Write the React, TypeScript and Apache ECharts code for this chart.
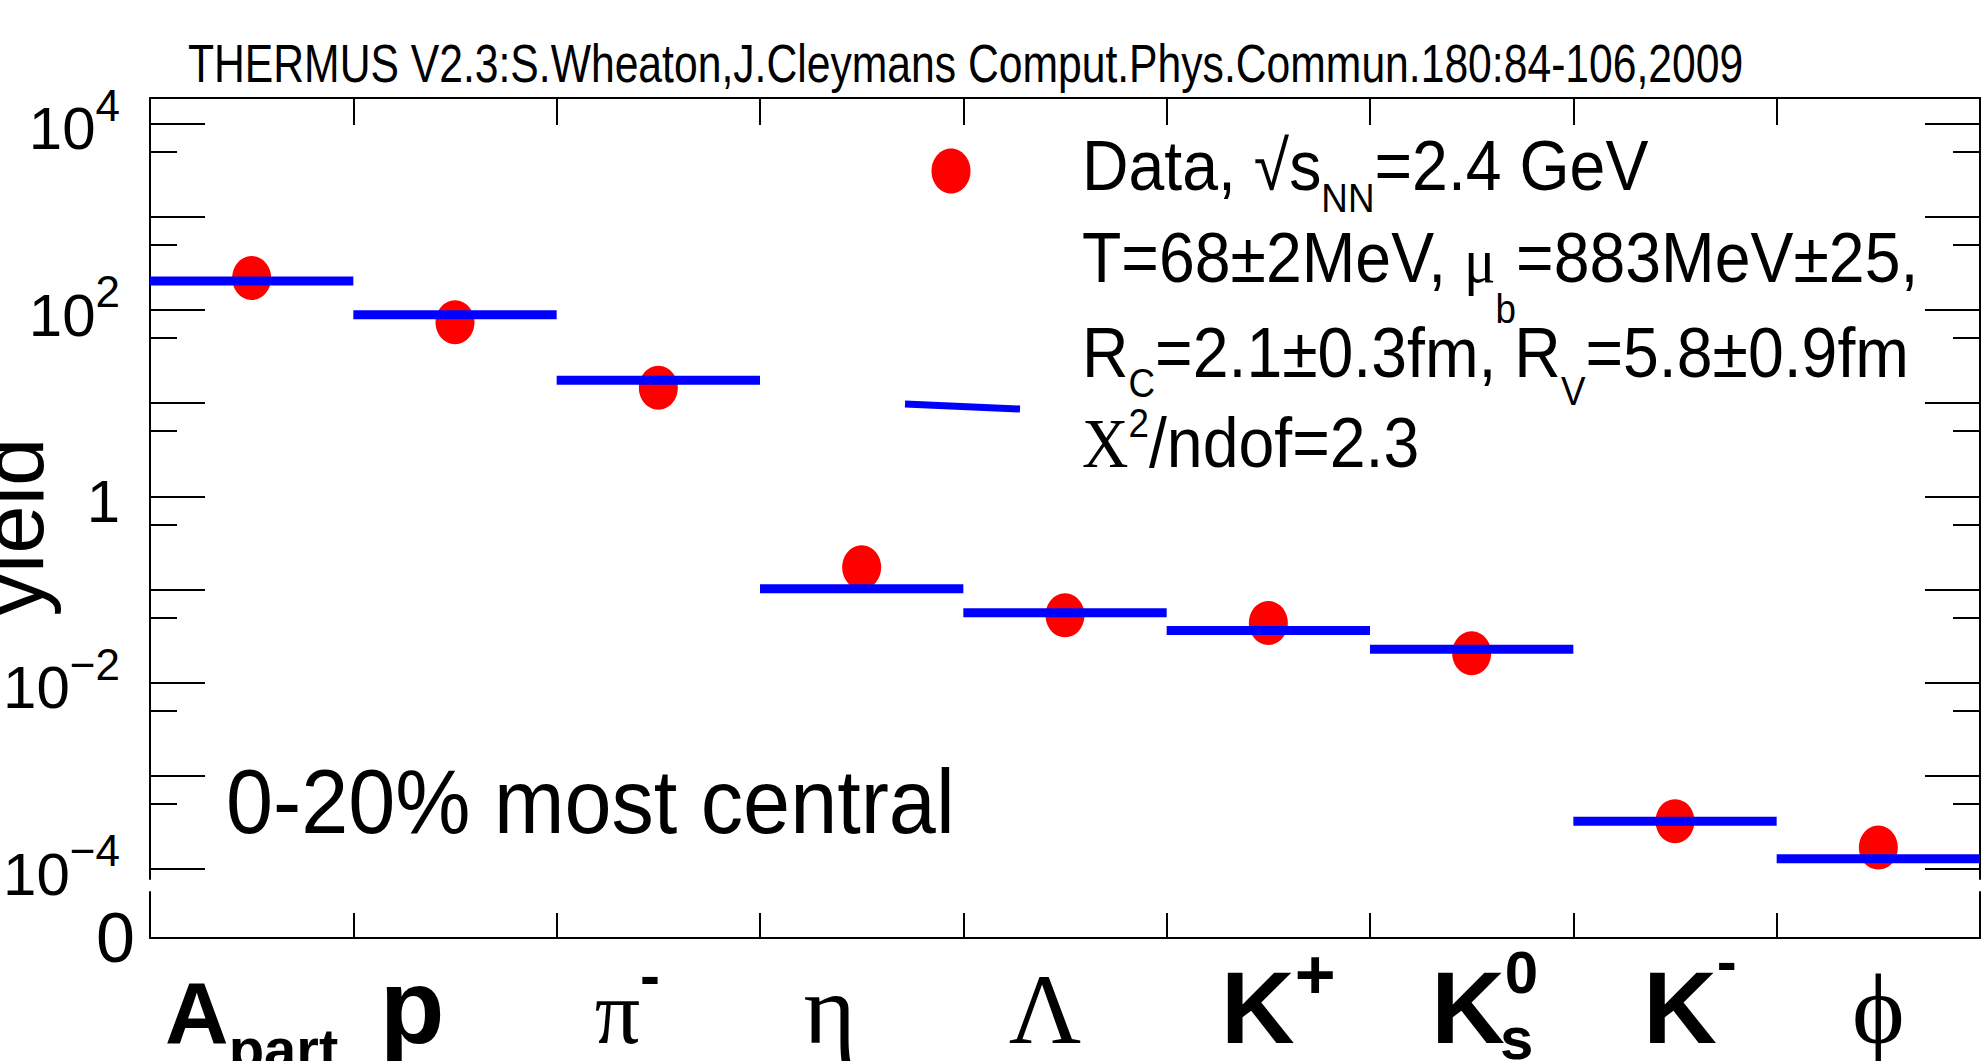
import React, { useEffect, useRef } from 'react';
import * as echarts from 'echarts';

// ---------- data ----------
const categories = ['A_part', 'p', 'π-', 'η', 'Λ', 'K+', 'K0s', 'K-', 'φ'];
const dataYields = [220, 73.8, 14.6, 0.173, 0.0528, 0.0438, 0.0207, 3.27e-4, 1.7e-4];
const modelYields = [204, 89, 17.6, 0.102, 0.0564, 0.0364, 0.0228, 3.27e-4, 1.29e-4];
const majorTickValues = [1e-4, 1e-3, 1e-2, 1e-1, 1, 10, 100, 1e3, 1e4];
const minorTickValues = [5e-4, 5e-3, 5e-2, 0.5, 5, 50, 500, 5000];
const labelTickValues = [1e-4, 1e-2, 1, 100, 1e4];
const yRange = [7.83e-5, 1.88e4];

const titleText = 'THERMUS V2.3:S.Wheaton,J.Cleymans Comput.Phys.Commun.180:84-106,2009';
const centralityText = '0-20% most central';
const yName = 'yield';

// ---------- styles ----------
const SANS = "'Liberation Sans', Arial, Helvetica, sans-serif";
const SERIF = "'Liberation Serif', 'Times New Roman', serif";

const lg = (v: number) => Math.log10(v);

const tok = (size: number, padTop: number, opt: any = {}) => ({
  fontSize: size,
  fontFamily: opt.serif ? SERIF : SANS,
  fontWeight: opt.bold ? 'bold' : 'normal',
  color: '#000',
  lineHeight: opt.lh ?? 80,
  verticalAlign: 'top',
  padding: [padTop, opt.right ?? 0, 0, opt.left ?? 0],
});

const catRich: any = {
  A: tok(88, 50.5, { bold: true }),
  Asub: tok(58, 101, { bold: true }),
  p: tok(106, 35.3, { bold: true, right: 86 }),
  pi: tok(90, 49.6, { serif: true }),
  pim: tok(60, 27.8, { bold: true, right: 62 }),
  eta: tok(100, 41.25, { serif: true, right: 64 }),
  lam: tok(100, 41.25, { serif: true, right: 40 }),
  Kp: tok(102, 38.7, { bold: true, left: 20 }),
  Kps: tok(70, 21.7, { bold: true }),
  K0: tok(102, 38.7, { bold: true, left: 26 }),
  K0s: tok(60, 24.2, { bold: true }),
  K0b: tok(60, 10.2, { bold: true, left: 90 }),
  Km: tok(102, 38.7, { bold: true, left: 30 }),
  Kms: tok(60, 13.8, { bold: true }),
  phi: tok(100, 41.25, { serif: true }),
};

const catLabel: Record<string, string> = {
  'A_part': '{A|A}{Asub|part}',
  'p': '{p|p}',
  'π-': '{pi|π}{pim|-}',
  'η': '{eta|η}',
  'Λ': '{lam|Λ}',
  'K+': '{Kp|K}{Kps|+}',
  'K0s': '{K0|K}{K0s|0}\n{K0b|s}',
  'K-': '{Km|K}{Kms|-}',
  'φ': '{phi|ϕ}',
};

const yRich: any = {
  b: tok(60, 20.2, { lh: 90 }),
  s: tok(44, 4.5, { lh: 90 }),
};

const yLabelFormatter = (val: number) => {
  const e = Math.round(val);
  if (e === 0) return '{b|1}';
  return '{b|10}{s|' + (e < 0 ? '−' + -e : String(e)) + '}';
};

const axisLine = { show: true, onZero: false, lineStyle: { color: '#000', width: 2 } };
const tickLine = { color: '#000', width: 2 };

const legRich: any = {
  t: { fontSize: 70, fontFamily: SANS, fill: '#000', color: '#000', verticalAlign: 'top', lineHeight: 100, padding: [10, 0, 0, 0] },
  mu: { fontSize: 64, fontFamily: SERIF, fill: '#000', color: '#000', verticalAlign: 'top', lineHeight: 100, padding: [15.7, 0, 0, 0] },
  X: { fontSize: 70, fontFamily: SERIF, fill: '#000', color: '#000', verticalAlign: 'top', lineHeight: 100, padding: [10.7, 0, 0, 0] },
  subNN: { fontSize: 40, fontFamily: SANS, fill: '#000', color: '#000', verticalAlign: 'top', lineHeight: 100, padding: [57.4, 0, 0, 0] },
  subb: { fontSize: 40, fontFamily: SANS, fill: '#000', color: '#000', verticalAlign: 'top', lineHeight: 100, padding: [76.4, 0, 0, 0] },
  subC: { fontSize: 40, fontFamily: SANS, fill: '#000', color: '#000', verticalAlign: 'top', lineHeight: 100, padding: [55.4, 0, 0, 0] },
  subV: { fontSize: 40, fontFamily: SANS, fill: '#000', color: '#000', verticalAlign: 'top', lineHeight: 100, padding: [63.4, 0, 0, 0] },
  sup2: { fontSize: 40, fontFamily: SANS, fill: '#000', color: '#000', verticalAlign: 'top', lineHeight: 100, padding: [5.4, 0, 0, 0] },
};

const legendLines = [
  { text: '{t|Data, √s}{subNN|NN}{t|=2.4 GeV}', baseline: 190 },
  { text: '{t|T=68±2MeV, }{mu|μ}{subb|b}{t|=883MeV±25,}', baseline: 282 },
  { text: '{t|R}{subC|C}{t|=2.1±0.3fm, R}{subV|V}{t|=5.8±0.9fm}', baseline: 377 },
  { text: '{X|X}{sup2|2}{t|/ndof=2.3}', baseline: 467 },
];

export default function App() {
  const ref = useRef<HTMLDivElement>(null);

  useEffect(() => {
    if (!ref.current) return;
    const chart = echarts.init(ref.current, undefined, { renderer: 'svg' });

    const graphic: any[] = [
      {
        type: 'text', x: 188, y: 63.3, scaleX: 0.79, silent: true,
        style: { text: titleText, fontSize: 54, fontFamily: SANS, fill: '#000', textFill: '#000', align: 'left', textAlign: 'left', verticalAlign: 'middle', textVerticalAlign: 'middle' },
      },
      {
        type: 'text', x: 226, y: 801.8, scaleX: 0.94, silent: true,
        style: { text: centralityText, fontSize: 90, fontFamily: SANS, fill: '#000', textFill: '#000', align: 'left', textAlign: 'left', verticalAlign: 'middle', textVerticalAlign: 'middle' },
      },
      {
        type: 'text', x: 12, y: 527, rotation: Math.PI / 2, silent: true,
        style: { text: yName, fontSize: 87, fontFamily: SANS, fill: '#000', textFill: '#000', align: 'center', textAlign: 'center', verticalAlign: 'middle', textVerticalAlign: 'middle' },
      },
      {
        type: 'ellipse', silent: true,
        shape: { cx: 951, cy: 171, rx: 19.5, ry: 22.5 },
        style: { fill: '#ff0000' },
      },
      {
        type: 'line', silent: true,
        shape: { x1: 905, y1: 404, x2: 1020, y2: 409 },
        style: { stroke: '#0000ff', lineWidth: 7 },
      },
      ...legendLines.map((l) => ({
        type: 'text', x: 1082, y: l.baseline - 69.3, scaleX: 0.92, silent: true,
        style: { text: l.text, rich: legRich, fill: '#000', align: 'left', textAlign: 'left', verticalAlign: 'top', textVerticalAlign: 'top' },
      })),
    ];

    const option: any = {
      animation: false,
      backgroundColor: '#ffffff',
      grid: [
        { left: 150, right: 1, top: 98, bottom: 182, containLabel: false, outerBoundsMode: 'none' },
        { left: 150, right: 1, top: 892, bottom: 123, containLabel: false, outerBoundsMode: 'none' },
      ],
      xAxis: [
        {
          type: 'category', gridIndex: 0, position: 'top', data: categories, boundaryGap: true,
          axisLine, axisTick: { show: true, inside: true, length: 27, lineStyle: tickLine },
          axisLabel: { show: false }, splitLine: { show: false },
        },
        {
          type: 'category', gridIndex: 1, position: 'bottom', data: categories, boundaryGap: true,
          axisLine, axisTick: { show: true, inside: true, length: 25, lineStyle: tickLine },
          axisLabel: {
            show: true, interval: 0, margin: -20, hideOverlap: false,
            formatter: (v: string) => catLabel[v] ?? v, rich: catRich,
          },
          splitLine: { show: false },
        },
      ],
      yAxis: [
        {
          type: 'value', gridIndex: 0, position: 'left', min: lg(yRange[0]), max: lg(yRange[1]),
          axisLine, splitLine: { show: false },
          axisTick: { show: true, inside: true, length: 55, lineStyle: tickLine, customValues: majorTickValues.map(lg) },
          axisLabel: { show: true, margin: 30, customValues: labelTickValues.map(lg), formatter: yLabelFormatter, rich: yRich },
        },
        {
          type: 'value', gridIndex: 0, position: 'left', min: lg(yRange[0]), max: lg(yRange[1]),
          axisLine: { show: false }, splitLine: { show: false }, axisLabel: { show: false },
          axisTick: { show: true, inside: true, length: 27, lineStyle: tickLine, customValues: minorTickValues.map(lg) },
        },
        {
          type: 'value', gridIndex: 0, position: 'right', min: lg(yRange[0]), max: lg(yRange[1]),
          axisLine, splitLine: { show: false }, axisLabel: { show: false },
          axisTick: { show: true, inside: true, length: 55, lineStyle: tickLine, customValues: majorTickValues.map(lg) },
        },
        {
          type: 'value', gridIndex: 0, position: 'right', min: lg(yRange[0]), max: lg(yRange[1]),
          axisLine: { show: false }, splitLine: { show: false }, axisLabel: { show: false },
          axisTick: { show: true, inside: true, length: 27, lineStyle: tickLine, customValues: minorTickValues.map(lg) },
        },
        {
          type: 'value', gridIndex: 1, position: 'left', min: 0, max: 1,
          axisLine, splitLine: { show: false }, axisTick: { show: false },
          axisLabel: { show: true, margin: 15, customValues: [0], formatter: () => '0', fontSize: 70, fontFamily: SANS, color: '#000' },
        },
        {
          type: 'value', gridIndex: 1, position: 'right', min: 0, max: 1,
          axisLine, splitLine: { show: false }, axisTick: { show: false }, axisLabel: { show: false },
        },
      ],
      series: [
        {
          type: 'scatter', name: 'Data', xAxisIndex: 0, yAxisIndex: 0, z: 2, silent: true,
          data: dataYields.map((v, i) => [i, lg(v)]),
          symbol: 'circle', symbolSize: [39, 44],
          itemStyle: { color: '#ff0000', opacity: 1 },
        },
        {
          type: 'custom', name: 'THERMUS', xAxisIndex: 0, yAxisIndex: 0, z: 3, silent: true,
          data: modelYields.map((v, i) => [i, lg(v)]),
          encode: { x: 0, y: 1 },
          renderItem: (params: any, api: any) => {
            const c = api.coord([api.value(0), api.value(1)]);
            const w = api.size([1, 0])[0];
            return {
              type: 'line',
              shape: { x1: c[0] - w / 2, y1: c[1], x2: c[0] + w / 2, y2: c[1] },
              style: { stroke: '#0000ff', lineWidth: 9 },
            };
          },
        },
      ],
      graphic,
    };

    chart.setOption(option);
    return () => chart.dispose();
  }, []);

  return (
    <div
      ref={ref}
      style={{ position: 'fixed', left: 0, top: 0, width: 1981, height: 1061, background: '#fff' }}
    />
  );
}
